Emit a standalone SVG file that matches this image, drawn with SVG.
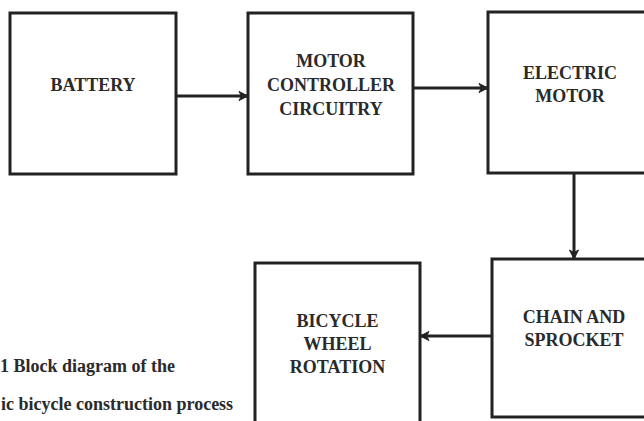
<svg xmlns="http://www.w3.org/2000/svg" width="644" height="421" viewBox="0 0 644 421">
<defs>
<style>
.box{fill:#fff;stroke:#222;stroke-width:3}
.lbl{font-family:"Liberation Serif","Times New Roman",serif;font-weight:bold;font-size:18px;fill:#2a2a2a;text-anchor:middle}
.cap{font-family:"Liberation Serif","Times New Roman",serif;font-weight:bold;font-size:18px;fill:#2a2a2a}
.edge{stroke:#222;stroke-width:3;fill:none}
</style>
<marker id="ah" markerWidth="12" markerHeight="12" refX="9" refY="5" orient="auto" markerUnits="userSpaceOnUse" viewBox="0 0 12 10">
<path d="M1,0.5 L10,5 L1,9.5 L3.5,5 Z" fill="#222" stroke="#222" stroke-width="1"/>
</marker>
</defs>
<rect width="644" height="421" fill="#fff"/>
<g id="battery">
<rect class="box" x="10" y="13" width="166" height="161"/>
<text class="lbl" x="93" y="91">BATTERY</text>
</g>
<g id="controller">
<rect class="box" x="248" y="13" width="165" height="161"/>
<text class="lbl" x="331" y="67">MOTOR</text>
<text class="lbl" x="331" y="91">CONTROLLER</text>
<text class="lbl" x="331" y="115">CIRCUITRY</text>
</g>
<g id="motor">
<rect class="box" x="488" y="12" width="170" height="161"/>
<text class="lbl" x="570" y="79">ELECTRIC</text>
<text class="lbl" x="570" y="102">MOTOR</text>
</g>
<g id="chain">
<rect class="box" x="492" y="259" width="170" height="158"/>
<text class="lbl" x="574" y="323">CHAIN AND</text>
<text class="lbl" x="574" y="346">SPROCKET</text>
</g>
<g id="wheel">
<rect class="box" x="255" y="263" width="165" height="170"/>
<text class="lbl" x="337.5" y="327">BICYCLE</text>
<text class="lbl" x="337.5" y="350">WHEEL</text>
<text class="lbl" x="337.5" y="373">ROTATION</text>
</g>
<g id="connectors">
<line class="edge" x1="176" y1="96" x2="247" y2="96" marker-end="url(#ah)"/>
<line class="edge" x1="413" y1="88" x2="487" y2="88" marker-end="url(#ah)"/>
<line class="edge" x1="574" y1="173" x2="574" y2="258" marker-end="url(#ah)"/>
<line class="edge" x1="492" y1="336" x2="421" y2="336" marker-end="url(#ah)"/>
</g>
<g id="caption">
<text class="cap" x="0" y="372">1 Block diagram of the</text>
<text class="cap" x="1" y="410">ic bicycle construction process</text>
</g>
</svg>
